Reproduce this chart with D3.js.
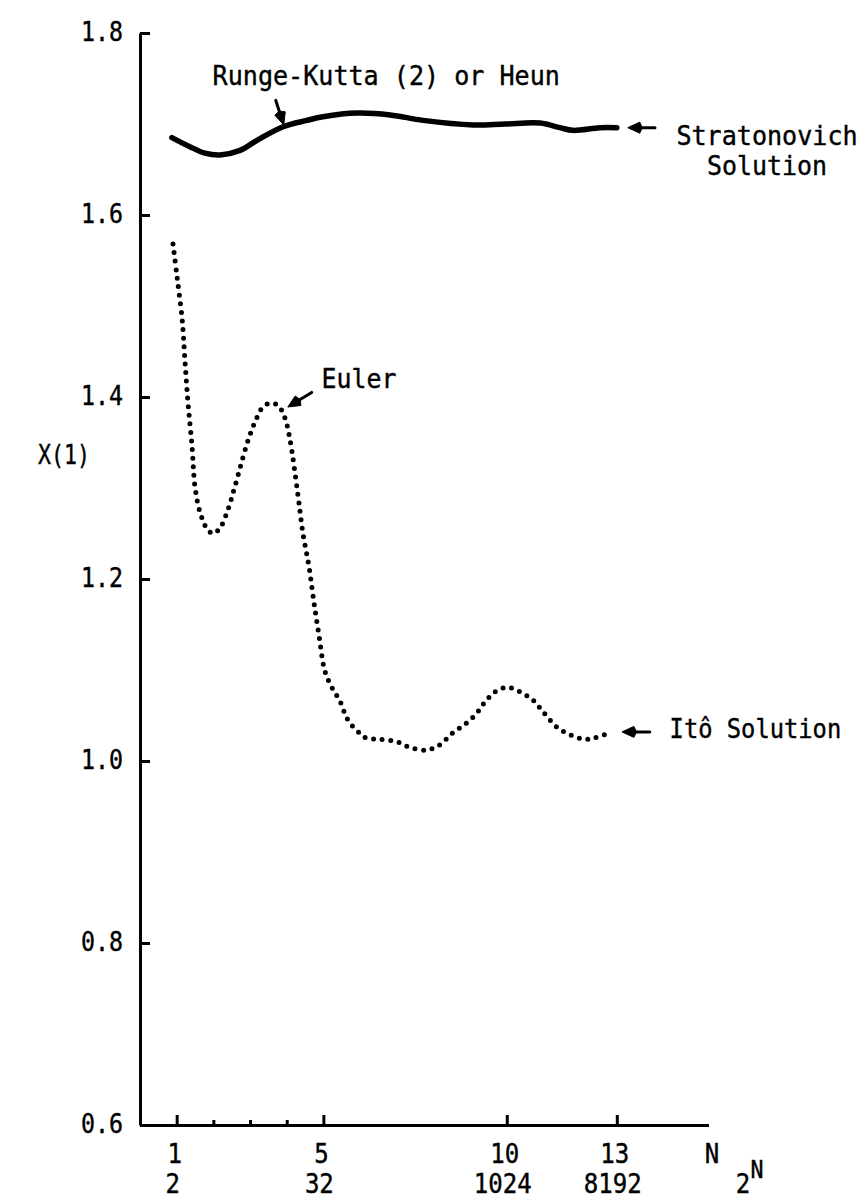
<!DOCTYPE html>
<html>
<head>
<meta charset="utf-8">
<script src="https://cdn.jsdelivr.net/npm/d3@7"></script>
<style>
  html, body { margin: 0; padding: 0; background: #fff; }
  svg { display: block; }
  text { font-family: "DejaVu Sans Mono", "Liberation Mono", monospace; fill: #000; stroke: #000; stroke-width: 0.4; }
</style>
</head>
<body>
<svg id="chart" width="867" height="1202"></svg>
<script>
// ---------- data ----------
const rkN = [0.87, 1.36, 1.77, 2.18, 2.73, 3.19, 3.90, 4.55, 4.99, 5.92, 6.82, 7.72, 9.08, 9.95, 10.91, 11.45, 11.80, 12.54, 13.00];
const rkX = [1.685, 1.675, 1.668, 1.666, 1.671, 1.682, 1.697, 1.704, 1.708, 1.712, 1.710, 1.704, 1.699, 1.700, 1.701, 1.696, 1.693, 1.696, 1.696];

const eulerN = [0.90, 1.01, 1.15, 1.23, 1.31, 1.42, 1.50, 1.64, 1.83, 1.99, 2.18, 2.37, 2.59, 2.92, 3.14, 3.35, 3.54, 3.76, 3.95, 4.09, 4.31, 4.44, 4.61, 4.74, 4.88, 5.04, 5.23, 5.45, 5.67, 6.00, 6.19, 6.54, 7.01, 7.36, 7.82, 8.18, 8.53, 8.91, 9.19, 9.41, 9.68, 10.01, 10.36, 10.71, 10.99, 11.37, 11.72, 12.08, 12.35, 12.87];
const eulerX = [1.568, 1.532, 1.485, 1.437, 1.393, 1.345, 1.301, 1.273, 1.255, 1.250, 1.256, 1.273, 1.302, 1.349, 1.373, 1.389, 1.393, 1.391, 1.377, 1.353, 1.291, 1.251, 1.213, 1.175, 1.138, 1.099, 1.081, 1.066, 1.045, 1.030, 1.025, 1.024, 1.021, 1.015, 1.012, 1.018, 1.031, 1.042, 1.053, 1.065, 1.076, 1.081, 1.076, 1.067, 1.054, 1.037, 1.029, 1.024, 1.025, 1.032];

const yTicks = [0.6, 0.8, 1.0, 1.2, 1.4, 1.6, 1.8];
const xMajorTicks = [1, 5, 10, 13];
const xMinorTicks = [2, 3, 4];
const xTickLabels = ["1", "5", "10", "13"];
const xPowLabels = ["2", "32", "1024", "8192"];

// ---------- layout ----------
const svg = d3.select("#chart");
const x = d3.scaleLinear().domain([0, 15.5]).range([140, 708.5]);
const y = d3.scaleLinear().domain([0.6, 1.8]).range([1125, 33]);

const FS = 26;       // font size
const CW = 14.8;     // char advance

function txt(g, str, px, py, anchor, opts = {}) {
  const cw = opts.cw || CW;
  return g.append("text")
    .attr("x", px).attr("y", py)
    .attr("text-anchor", anchor || "start")
    .attr("font-size", opts.fs || FS)
    .attr("textLength", str.length * cw)
    .attr("lengthAdjust", "spacingAndGlyphs")
    .text(str);
}

// ---------- axes ----------
const yAxis = d3.axisLeft(y).tickValues(yTicks).tickSizeInner(-10).tickSizeOuter(0).tickFormat("");
const gy = svg.append("g").attr("transform", `translate(${x(0)},0)`).call(yAxis);
gy.selectAll("path, line").attr("stroke", "#000").attr("stroke-width", 3);

const xAxis = d3.axisBottom(x).tickValues(xMajorTicks).tickSizeInner(-10).tickSizeOuter(0).tickFormat("");
const gx = svg.append("g").attr("transform", `translate(0,${y(0.6)})`).call(xAxis);
gx.selectAll("path, line").attr("stroke", "#000").attr("stroke-width", 3);
const xAxisMinor = d3.axisBottom(x).tickValues(xMinorTicks).tickSizeInner(-5).tickSizeOuter(0).tickFormat("");
const gx2 = svg.append("g").attr("transform", `translate(0,${y(0.6)})`).call(xAxisMinor);
gx2.select("path").remove();
gx2.selectAll("line").attr("stroke", "#000").attr("stroke-width", 3);

// y tick labels
const gl = svg.append("g");
yTicks.forEach(v => {
  txt(gl, d3.format(".1f")(v), 123, y(v) + 8, "end", { cw: 14 });
});
// x tick labels (N and 2^N rows)
xMajorTicks.forEach((n, i) => {
  txt(gl, xTickLabels[i], x(n) - 2, y(0.6) + 38, "middle", { cw: 14.5 });
  txt(gl, xPowLabels[i], x(n) - 4, y(0.6) + 68, "middle", { cw: 14.5 });
});
txt(gl, "N", 712, y(0.6) + 38, "middle", { cw: 14.5 });
txt(gl, "2", 743, y(0.6) + 68, "middle", { cw: 14.5 });
txt(gl, "N", 757, y(0.6) + 53, "middle", { cw: 13, fs: 24 });

// y-axis title
txt(gl, "X(1)", 38, 464, "start", { cw: 13 });

// ---------- lines ----------
const rkData = rkN.map((n, i) => [n, rkX[i]]);
const eulerData = eulerN.map((n, i) => [n, eulerX[i]]);
const line = d3.line().x(d => x(d[0])).y(d => y(d[1])).curve(d3.curveCatmullRom.alpha(0.5));

svg.append("path").datum(rkData).attr("d", line)
  .attr("fill", "none").attr("stroke", "#000").attr("stroke-width", 5.5)
  .attr("stroke-linecap", "round").attr("stroke-linejoin", "round");

svg.append("path").datum(eulerData).attr("d", line)
  .attr("fill", "none").attr("stroke", "#000").attr("stroke-width", 5)
  .attr("stroke-linecap", "round").attr("stroke-dasharray", "0,8.6");

// ---------- annotations ----------
function arrow(tail, tip) {
  const x1 = x(tail[0]), y1 = y(tail[1]), x2 = x(tip[0]), y2 = y(tip[1]);
  const ang = Math.atan2(y2 - y1, x2 - x1);
  const hl = 12, hw = 5.5;
  const bx = x2 - hl * Math.cos(ang), by = y2 - hl * Math.sin(ang);
  svg.append("line").attr("x1", x1).attr("y1", y1).attr("x2", bx).attr("y2", by)
    .attr("stroke", "#000").attr("stroke-width", 3).attr("stroke-linecap", "round");
  const px = -Math.sin(ang), py = Math.cos(ang);
  svg.append("path")
    .attr("d", `M${x2},${y2}L${bx + hw * px},${by + hw * py}L${bx - 2.5 * Math.cos(ang)},${by - 2.5 * Math.sin(ang)}L${bx - hw * px},${by - hw * py}Z`)
    .attr("fill", "#000").attr("stroke", "#000").attr("stroke-width", 1);
}
arrow([3.70, 1.726], [3.92, 1.699]);   // Runge-Kutta
arrow([4.68, 1.405], [4.03, 1.389]);   // Euler
arrow([14.04, 1.696], [13.30, 1.696]); // Stratonovich
arrow([13.90, 1.032], [13.14, 1.032]); // Ito

const ga = svg.append("g");
txt(ga, "Runge-Kutta (2) or Heun", x(1.98), y(1.743), "start", { cw: 15.1 });
txt(ga, "Euler", x(4.95), y(1.410), "start", { cw: 15 });
txt(ga, "Stratonovich", 767, y(1.677), "middle", { cw: 15.1 });
txt(ga, "Solution", 767, y(1.644), "middle", { cw: 15 });
txt(ga, "Itô Solution", x(14.44), y(1.025), "start", { cw: 14.3 });
</script>
</body>
</html>
